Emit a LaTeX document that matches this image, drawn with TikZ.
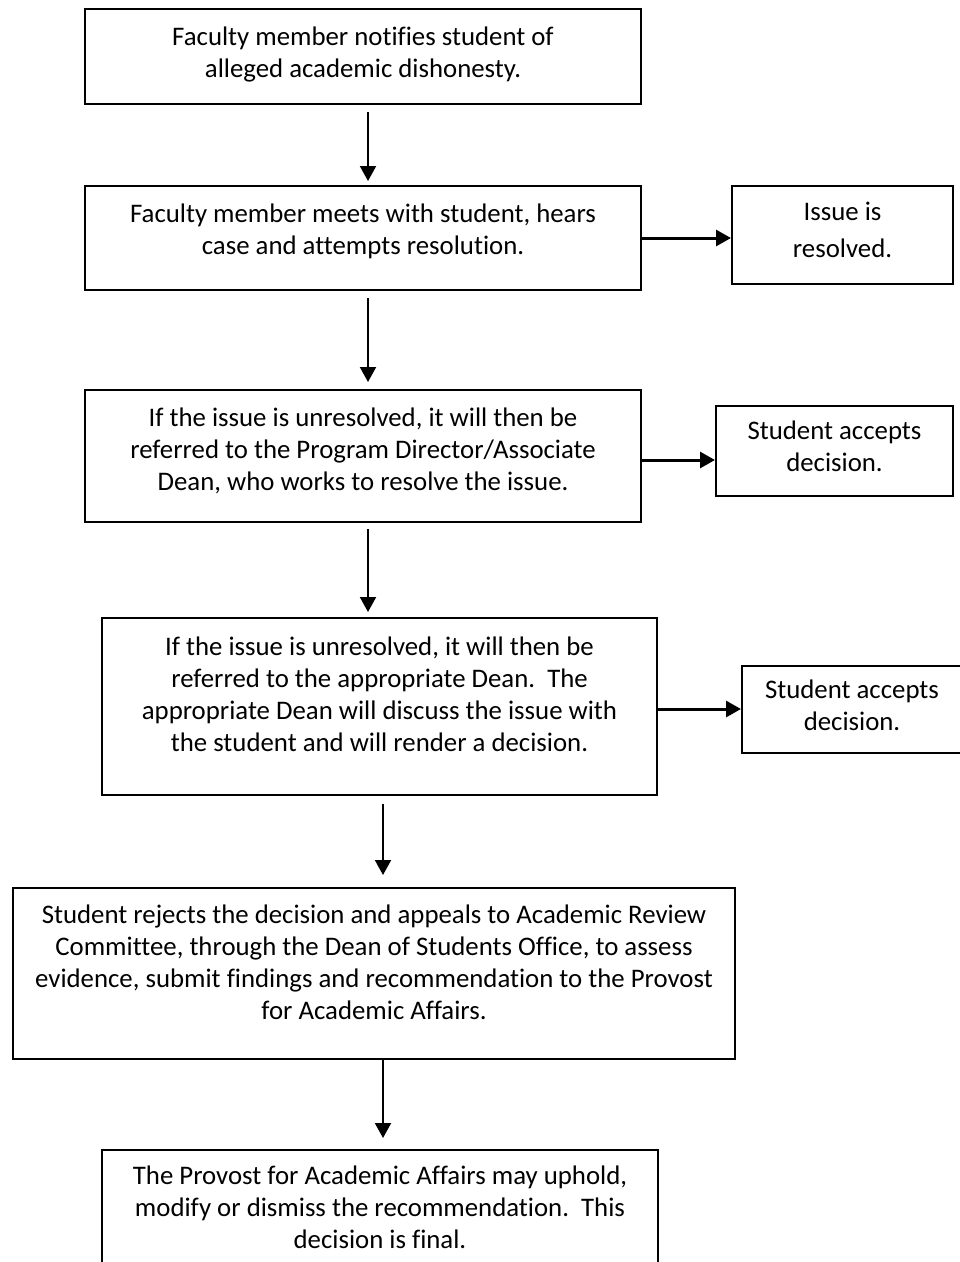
\documentclass[tikz,border=0pt]{standalone}
\usepackage{fontspec}
\setmainfont{Carlito}[Ligatures={NoCommon}]
\usetikzlibrary{arrows.meta}
\begin{document}
\begin{tikzpicture}[x=1pt,y=-1pt,
  flowbox/.style={draw, line width=2pt, align=center, inner sep=0pt,
    font=\fontsize{26.8}{32}\selectfont,
    execute at begin node=\strut, execute at end node=\strut},
  varrow/.style={-{Triangle[length=15pt,width=16pt]}, line width=2pt},
  harrow/.style={-{Triangle[length=15pt,width=16pt]}, line width=3pt}]
\useasboundingbox (0,0) rectangle (960,1262);
\clip (0,0) rectangle (960,1262);

% main column of steps
\node[flowbox, minimum width=556pt, minimum height=95pt] (b1) at (363,56.5)
  {Faculty member notifies student of\\alleged academic dishonesty.};
\node[flowbox, minimum width=556pt, minimum height=104pt] (b2) at (363,238)
  {Faculty member meets with student, hears\\case and attempts resolution.\rule[-18.6pt]{0pt}{18.6pt}};
\node[flowbox, minimum width=556pt, minimum height=132pt] (b3) at (363,456)
  {If the issue is unresolved, it will then be\\referred to the Program Director/Associate\\Dean, who works to resolve the issue.\rule[-14.6pt]{0pt}{14.6pt}};
\node[flowbox, minimum width=555pt, minimum height=177pt] (b4) at (379.5,706.5)
  {If the issue is unresolved, it will then be\\referred to the appropriate Dean.\ \ The\\appropriate Dean will discuss the issue with\\the student and will render a decision.\rule[-24.6pt]{0pt}{24.6pt}};
\node[flowbox, minimum width=722pt, minimum height=171pt] (b5) at (374,973.5)
  {Student rejects the decision and appeals to Academic Review\\Committee, through the Dean of Students Office, to assess\\evidence, submit findings and recommendation to the Provost\\for Academic Affairs.\rule[-23.6pt]{0pt}{23.6pt}};
\node[flowbox, minimum width=556pt, inner ysep=15.6pt, anchor=north] (b6) at (380,1149)
  {The Provost for Academic Affairs may uphold,\\modify or dismiss the recommendation.\ \ This\\decision is final.};

% side outcomes
\node[flowbox, minimum width=221pt, minimum height=98pt] (issue) at (842.5,235)
  {Issue is\\[5pt]resolved.};
\node[flowbox, minimum width=237pt, minimum height=90pt] (a1) at (834.5,451)
  {Student accepts\\decision.};
\node[flowbox, minimum width=220pt, minimum height=87pt] (a2) at (852,709.5)
  {Student accepts\\decision.};

% arrow columns
\coordinate (colA) at (368,0);
\coordinate (colB) at (383,0);

\draw[varrow, shorten <=7pt, shorten >=4pt] (b1.south -| colA) -- (b2.north -| colA);
\draw[varrow, shorten <=7pt, shorten >=7pt] (b2.south -| colA) -- (b3.north -| colA);
\draw[varrow, shorten <=6pt, shorten >=5pt] (b3.south -| colA) -- (b4.north -| colA);
\draw[varrow, shorten <=8pt, shorten >=12pt] (b4.south -| colB) -- (b5.north -| colB);
\draw[varrow, shorten >=11pt] (b5.south -| colB) -- (b6.north -| colB);

\draw[harrow] (b2.east) -- (b2.east -| issue.west);
\draw[harrow] ([yshift=-4pt]b3.east) -- ([yshift=-4pt]b3.east -| a1.west);
\draw[harrow] ([yshift=-2.5pt]b4.east) -- ([yshift=-2.5pt]b4.east -| a2.west);
\end{tikzpicture}
\end{document}
